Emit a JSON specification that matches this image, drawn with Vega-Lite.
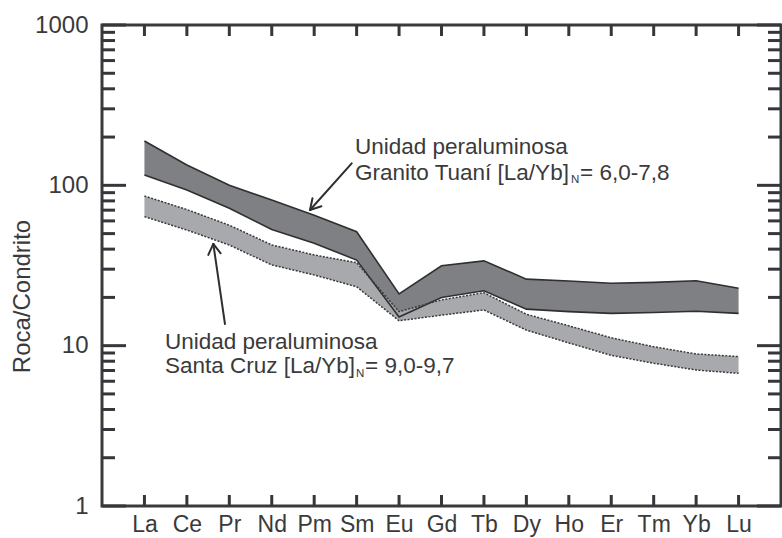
{
  "$schema": "https://vega.github.io/schema/vega-lite/v6.json",
  "width": 679,
  "height": 481,
  "autosize": {"type": "none"},
  "padding": {"left": 102, "top": 25, "right": 1, "bottom": 32},
  "background": "white",
  "config": {
    "font": "Liberation Sans",
    "view": {"stroke": "#3a3a3a", "strokeWidth": 3},
    "axis": {
      "domain": false,
      "grid": false,
      "ticks": false,
      "labelColor": "#3a3a3a",
      "labelFont": "Liberation Sans",
      "labelFlush": false,
      "titleFont": "Liberation Sans",
      "titleColor": "#3a3a3a"
    }
  },
  "datasets": {
    "ree": [
      {"el": "La", "i": 0, "dhi": 189, "dlo": 116, "lhi": 85.8, "llo": 63.8},
      {"el": "Ce", "i": 1, "dhi": 134, "dlo": 93.5, "lhi": 70.6, "llo": 52.6},
      {"el": "Pr", "i": 2, "dhi": 100, "dlo": 72, "lhi": 56.4, "llo": 42.4},
      {"el": "Nd", "i": 3, "dhi": 81, "dlo": 53, "lhi": 42.5, "llo": 31.9},
      {"el": "Pm", "i": 4, "dhi": 65, "dlo": 43.5, "lhi": 36.8, "llo": 27.6},
      {"el": "Sm", "i": 5, "dhi": 51.4, "dlo": 34.2, "lhi": 32.9, "llo": 23.3},
      {"el": "Eu", "i": 6, "dhi": 21, "dlo": 15.1, "lhi": 16.3, "llo": 14.3},
      {"el": "Gd", "i": 7, "dhi": 31.5, "dlo": 20, "lhi": 19.3, "llo": 15.5},
      {"el": "Tb", "i": 8, "dhi": 33.8, "dlo": 22, "lhi": 21.4, "llo": 16.7},
      {"el": "Dy", "i": 9, "dhi": 26, "dlo": 16.9, "lhi": 15.7, "llo": 12.5},
      {"el": "Ho", "i": 10, "dhi": 25.3, "dlo": 16.3, "lhi": 13.3, "llo": 10.4},
      {"el": "Er", "i": 11, "dhi": 24.5, "dlo": 15.9, "lhi": 11.2, "llo": 8.7},
      {"el": "Tm", "i": 12, "dhi": 24.8, "dlo": 16.1, "lhi": 9.85, "llo": 7.77},
      {"el": "Yb", "i": 13, "dhi": 25.4, "dlo": 16.4, "lhi": 8.88, "llo": 7.05},
      {"el": "Lu", "i": 14, "dhi": 22.8, "dlo": 15.9, "lhi": 8.55, "llo": 6.72}
    ],
    "yticks": [
      {"v": 1, "kind": "major"}, {"v": 10, "kind": "major"}, {"v": 100, "kind": "major"}, {"v": 1000, "kind": "major"},
      {"v": 2, "kind": "minor"}, {"v": 3, "kind": "minor"}, {"v": 4, "kind": "minor"}, {"v": 5, "kind": "minor"},
      {"v": 6, "kind": "minor"}, {"v": 7, "kind": "minor"}, {"v": 8, "kind": "minor"}, {"v": 9, "kind": "minor"},
      {"v": 20, "kind": "minor"}, {"v": 30, "kind": "minor"}, {"v": 40, "kind": "minor"}, {"v": 50, "kind": "minor"},
      {"v": 60, "kind": "minor"}, {"v": 70, "kind": "minor"}, {"v": 80, "kind": "minor"}, {"v": 90, "kind": "minor"},
      {"v": 200, "kind": "minor"}, {"v": 300, "kind": "minor"}, {"v": 400, "kind": "minor"}, {"v": 500, "kind": "minor"},
      {"v": 600, "kind": "minor"}, {"v": 700, "kind": "minor"}, {"v": 800, "kind": "minor"}, {"v": 900, "kind": "minor"}
    ],
    "arrows": [
      {"x": 4.884, "y": 137.2, "x2": 3.901, "y2": 70.2},
      {"x": 3.901, "y": 70.2, "x2": 4.17, "y2": 74.1},
      {"x": 3.901, "y": 70.2, "x2": 3.96, "y2": 83.0},
      {"x": 1.898, "y": 13.65, "x2": 1.623, "y2": 43.1},
      {"x": 1.623, "y": 43.1, "x2": 1.505, "y2": 36.8},
      {"x": 1.623, "y": 43.1, "x2": 1.797, "y2": 37.7}
    ],
    "notes": [
      {"kind": "main", "text": "Unidad peraluminosa", "x": 4.962, "y": 156},
      {"kind": "main", "text": "Granito Tuaní [La/Yb]", "x": 4.962, "y": 108},
      {"kind": "sub", "text": "N", "x": 10.052, "y": 102.7},
      {"kind": "eq", "text": "= 6,0-7,8", "x": 10.264, "y": 108},
      {"kind": "main", "text": "Unidad peraluminosa", "x": 0.4845, "y": 9.53},
      {"kind": "main", "text": "Santa Cruz [La/Yb]", "x": 0.4845, "y": 6.72},
      {"kind": "sub", "text": "N", "x": 4.985, "y": 6.42},
      {"kind": "eq", "text": "= 9,0-9,7", "x": 5.197, "y": 6.72}
    ]
  },
  "resolve": {"axis": {"x": "independent", "y": "independent"}},
  "layer": [
    {
      "data": {"name": "ree"},
      "mark": {"type": "area", "fill": "#7e8083"},
      "encoding": {
        "x": {
          "field": "i", "type": "quantitative",
          "scale": {"domain": [-1, 15], "nice": false, "zero": false},
          "axis": {
            "orient": "bottom",
            "values": [0, 1, 2, 3, 4, 5, 6, 7, 8, 9, 10, 11, 12, 13, 14],
            "labelPadding": 7,
            "labelFontSize": 23,
            "labelExpr": "['La','Ce','Pr','Nd','Pm','Sm','Eu','Gd','Tb','Dy','Ho','Er','Tm','Yb','Lu'][datum.value]",
            "title": null
          }
        },
        "y": {
          "field": "dhi", "type": "quantitative",
          "scale": {"type": "log", "domain": [1, 1000], "nice": false},
          "axis": {
            "orient": "left",
            "values": [1, 10, 100, 1000],
            "format": "d",
            "labelPadding": 14,
            "labelFontSize": 24,
            "title": "Roca/Condrito",
            "titleFontSize": 24,
            "titleFontWeight": "normal",
            "titleAngle": -90,
            "titleAlign": "center",
            "titleBaseline": "bottom",
            "titleX": -68,
            "titleY": 271
          }
        },
        "y2": {"field": "dlo"}
      }
    },
    {
      "data": {"name": "ree"},
      "mark": {"type": "area", "fill": "#a7a9ac"},
      "encoding": {
        "x": {"field": "i", "type": "quantitative", "axis": null},
        "y": {"field": "lhi", "type": "quantitative", "axis": null},
        "y2": {"field": "llo"}
      }
    },
    {
      "data": {"name": "ree"},
      "mark": {"type": "line", "stroke": "#2f2f2f", "strokeWidth": 1.6},
      "encoding": {
        "x": {"field": "i", "type": "quantitative", "axis": null},
        "y": {"field": "dhi", "type": "quantitative", "axis": null}
      }
    },
    {
      "data": {"name": "ree"},
      "mark": {"type": "line", "stroke": "#2f2f2f", "strokeWidth": 1.6},
      "encoding": {
        "x": {"field": "i", "type": "quantitative", "axis": null},
        "y": {"field": "dlo", "type": "quantitative", "axis": null}
      }
    },
    {
      "data": {"name": "ree"},
      "mark": {"type": "line", "stroke": "#3a3a3a", "strokeWidth": 1.5, "strokeDash": [2, 1.5]},
      "encoding": {
        "x": {"field": "i", "type": "quantitative", "axis": null},
        "y": {"field": "lhi", "type": "quantitative", "axis": null}
      }
    },
    {
      "data": {"name": "ree"},
      "mark": {"type": "line", "stroke": "#3a3a3a", "strokeWidth": 1.5, "strokeDash": [2, 1.5]},
      "encoding": {
        "x": {"field": "i", "type": "quantitative", "axis": null},
        "y": {"field": "llo", "type": "quantitative", "axis": null}
      }
    },
    {
      "data": {"name": "ree"},
      "mark": {"type": "rule", "stroke": "#36363c", "strokeWidth": 3},
      "encoding": {
        "x": {"field": "i", "type": "quantitative", "axis": null},
        "y": {"datum": 1, "type": "quantitative", "axis": null},
        "y2": {"datum": 1.171}
      }
    },
    {
      "data": {"name": "ree"},
      "mark": {"type": "rule", "stroke": "#36363c", "strokeWidth": 3},
      "encoding": {
        "x": {"field": "i", "type": "quantitative", "axis": null},
        "y": {"datum": 1000, "type": "quantitative", "axis": null},
        "y2": {"datum": 853.9}
      }
    },
    {
      "data": {"name": "yticks"},
      "transform": [{"filter": "datum.kind === 'major'"}],
      "mark": {"type": "rule", "stroke": "#36363c", "strokeWidth": 3},
      "encoding": {
        "y": {"field": "v", "type": "quantitative", "axis": null},
        "x": {"datum": -1, "type": "quantitative", "axis": null},
        "x2": {"datum": -0.4345}
      }
    },
    {
      "data": {"name": "yticks"},
      "transform": [{"filter": "datum.kind === 'minor'"}],
      "mark": {"type": "rule", "stroke": "#36363c", "strokeWidth": 3},
      "encoding": {
        "y": {"field": "v", "type": "quantitative", "axis": null},
        "x": {"datum": -1, "type": "quantitative", "axis": null},
        "x2": {"datum": -0.694}
      }
    },
    {
      "data": {"name": "yticks"},
      "transform": [{"filter": "datum.kind === 'major'"}],
      "mark": {"type": "rule", "stroke": "#36363c", "strokeWidth": 3},
      "encoding": {
        "y": {"field": "v", "type": "quantitative", "axis": null},
        "x": {"datum": 15, "type": "quantitative", "axis": null},
        "x2": {"datum": 14.4345}
      }
    },
    {
      "data": {"name": "yticks"},
      "transform": [{"filter": "datum.kind === 'minor'"}],
      "mark": {"type": "rule", "stroke": "#36363c", "strokeWidth": 3},
      "encoding": {
        "y": {"field": "v", "type": "quantitative", "axis": null},
        "x": {"datum": 15, "type": "quantitative", "axis": null},
        "x2": {"datum": 14.694}
      }
    },
    {
      "data": {"name": "arrows"},
      "mark": {"type": "rule", "stroke": "#2f2f2f", "strokeWidth": 2, "strokeCap": "round"},
      "encoding": {
        "x": {"field": "x", "type": "quantitative", "axis": null},
        "x2": {"field": "x2"},
        "y": {"field": "y", "type": "quantitative", "axis": null},
        "y2": {"field": "y2"}
      }
    },
    {
      "data": {"name": "notes"},
      "transform": [{"filter": "datum.kind === 'main'"}],
      "mark": {"type": "text", "align": "left", "baseline": "alphabetic", "fontSize": 22.5, "color": "#3a3a3a"},
      "encoding": {
        "x": {"field": "x", "type": "quantitative", "axis": null},
        "y": {"field": "y", "type": "quantitative", "axis": null},
        "text": {"field": "text"}
      }
    },
    {
      "data": {"name": "notes"},
      "transform": [{"filter": "datum.kind === 'sub'"}],
      "mark": {"type": "text", "align": "left", "baseline": "alphabetic", "fontSize": 11.5, "color": "#3a3a3a"},
      "encoding": {
        "x": {"field": "x", "type": "quantitative", "axis": null},
        "y": {"field": "y", "type": "quantitative", "axis": null},
        "text": {"field": "text"}
      }
    },
    {
      "data": {"name": "notes"},
      "transform": [{"filter": "datum.kind === 'eq'"}],
      "mark": {"type": "text", "align": "left", "baseline": "alphabetic", "fontSize": 22.5, "color": "#3a3a3a"},
      "encoding": {
        "x": {"field": "x", "type": "quantitative", "axis": null},
        "y": {"field": "y", "type": "quantitative", "axis": null},
        "text": {"field": "text"}
      }
    }
  ]
}
